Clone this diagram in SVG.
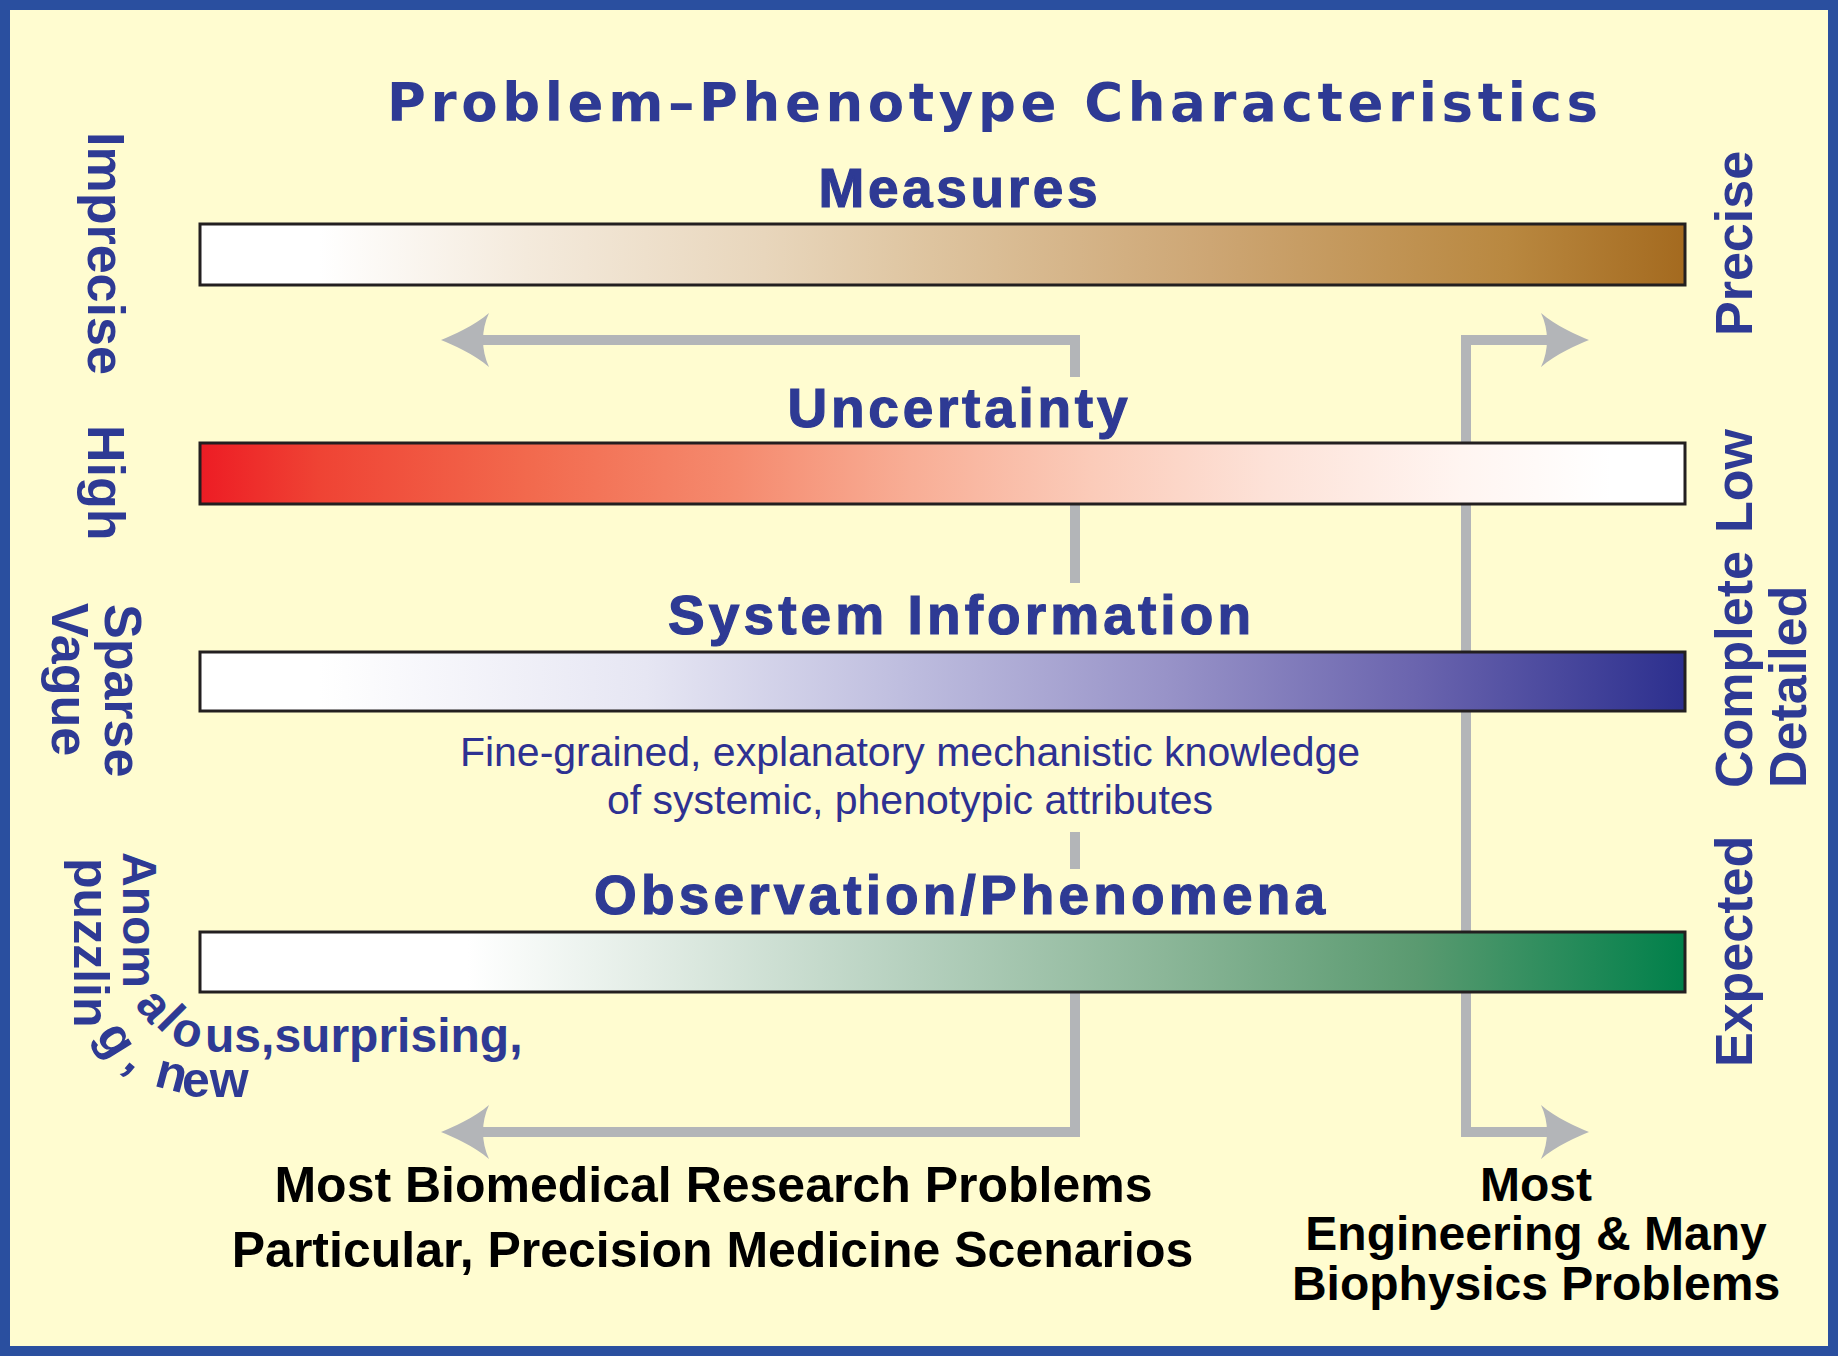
<svg xmlns="http://www.w3.org/2000/svg" xmlns:xlink="http://www.w3.org/1999/xlink" width="1838" height="1356" viewBox="0 0 1838 1356">
<style>
.conn{fill:none;stroke:#B3B5B8;stroke-width:10;stroke-linejoin:miter;stroke-linecap:butt}
.head{fill:#B3B5B8}
.bar{stroke:#231F20;stroke-width:3}
.bt{font-family:"Liberation Sans",Arial,sans-serif;font-weight:bold;fill:#2E3A94}
.ttl{font-family:"DejaVu Sans","Liberation Sans",Arial,sans-serif;font-weight:bold;fill:#2E3A94}
.hv{stroke:#2E3A94;stroke-width:1.2}
.side{font-family:"Liberation Sans",Arial,sans-serif;font-weight:bold;fill:#2E3A94;font-size:52px}
.desc{font-family:"Liberation Sans",Arial,sans-serif;fill:#2E3192;font-size:41px}
.blk{font-family:"Liberation Sans",Arial,sans-serif;font-weight:bold;fill:#000000}
</style>
<defs>
<linearGradient id="gMeas" x1="0" y1="0" x2="1" y2="0">
<stop offset="0" stop-color="#FFFFFF"/>
<stop offset="0.08" stop-color="#FFFFFF"/>
<stop offset="0.22" stop-color="#F4EADC"/>
<stop offset="0.38" stop-color="#E8D6BC"/>
<stop offset="0.48" stop-color="#DFC6A2"/>
<stop offset="0.68" stop-color="#CDA674"/>
<stop offset="0.88" stop-color="#B98840"/>
<stop offset="1" stop-color="#A46A1F"/>
</linearGradient>
<linearGradient id="gUnc" x1="0" y1="0" x2="1" y2="0">
<stop offset="0" stop-color="#ED1C24"/>
<stop offset="0.08" stop-color="#EF4334"/>
<stop offset="0.22" stop-color="#F2694D"/>
<stop offset="0.36" stop-color="#F58A6E"/>
<stop offset="0.48" stop-color="#F8AE96"/>
<stop offset="0.6" stop-color="#FBCBB9"/>
<stop offset="0.72" stop-color="#FDE2D8"/>
<stop offset="0.85" stop-color="#FFF5F1"/>
<stop offset="0.95" stop-color="#FFFFFF"/>
<stop offset="1" stop-color="#FFFFFF"/>
</linearGradient>
<linearGradient id="gSys" x1="0" y1="0" x2="1" y2="0">
<stop offset="0" stop-color="#FFFFFF"/>
<stop offset="0.08" stop-color="#FFFFFF"/>
<stop offset="0.3" stop-color="#E6E6F3"/>
<stop offset="0.48" stop-color="#BDBCDE"/>
<stop offset="0.65" stop-color="#9893C8"/>
<stop offset="0.82" stop-color="#6A64AE"/>
<stop offset="1" stop-color="#2C2F8E"/>
</linearGradient>
<linearGradient id="gObs" x1="0" y1="0" x2="1" y2="0">
<stop offset="0" stop-color="#FFFFFF"/>
<stop offset="0.18" stop-color="#FFFFFF"/>
<stop offset="0.3" stop-color="#E3EDE6"/>
<stop offset="0.48" stop-color="#B5D0BE"/>
<stop offset="0.65" stop-color="#8BB698"/>
<stop offset="0.82" stop-color="#5A9A70"/>
<stop offset="1" stop-color="#00804A"/>
</linearGradient>
<path id="ahR" d="M0,0 C-12,-5 -33,-14 -48,-27 C-40,-10 -40,10 -48,27 C-33,14 -12,5 0,0 Z"/>
</defs>

<rect id="frame" x="5" y="5" width="1828" height="1346" fill="#FFFCD0" stroke="#2A4F9F" stroke-width="10"/>

<g id="connectors">
<path class="conn" d="M1075,377 V340 H482"/>
<path class="conn" d="M1075,504 V583"/>
<path class="conn" d="M1075,832 V869"/>
<path class="conn" d="M1075,992 V1132 H482"/>
<path class="conn" d="M1548,340 H1466 V1132 H1548"/>
<use class="head" href="#ahR" transform="translate(441,340) scale(-1,1)"/>
<use class="head" href="#ahR" transform="translate(441,1132) scale(-1,1)"/>
<use class="head" href="#ahR" transform="translate(1589,340)"/>
<use class="head" href="#ahR" transform="translate(1589,1132)"/>
</g>

<text id="title" class="ttl" x="992.5" y="121" font-size="53" text-anchor="middle" textLength="1211" lengthAdjust="spacing">Problem–Phenotype Characteristics</text>

<g id="measures">
<text class="bt hv" x="958" y="207" font-size="55" text-anchor="middle" textLength="279" lengthAdjust="spacing">Measures</text>
<rect class="bar" x="200" y="224" width="1485" height="61" fill="url(#gMeas)"/>
<text class="side" transform="translate(88,132) rotate(90)">Imprecise</text>
<text class="side" transform="translate(1752,336) rotate(-90)">Precise</text>
</g>

<g id="uncertainty">
<text class="bt hv" x="957.5" y="427" font-size="55" text-anchor="middle" textLength="340" lengthAdjust="spacing">Uncertainty</text>
<rect class="bar" x="200" y="443" width="1485" height="61" fill="url(#gUnc)"/>
<text class="side" transform="translate(88,425) rotate(90)">High</text>
<text class="side" transform="translate(1752,533) rotate(-90)">Low</text>
</g>

<g id="system-information">
<text class="bt hv" x="959.5" y="634" font-size="55" text-anchor="middle" textLength="583" lengthAdjust="spacing">System Information</text>
<rect class="bar" x="200" y="652" width="1485" height="59" fill="url(#gSys)"/>
<text class="desc" x="910" y="766" text-anchor="middle">Fine-grained, explanatory mechanistic knowledge</text>
<text class="desc" x="910" y="814" text-anchor="middle">of systemic, phenotypic attributes</text>
<text class="side" transform="translate(105,604) rotate(90)">Sparse</text>
<text class="side" transform="translate(52,603) rotate(90)">Vague</text>
<text class="side" transform="translate(1752,788) rotate(-90)">Complete</text>
<text class="side" transform="translate(1806,788) rotate(-90)">Detailed</text>
</g>

<g id="observation">
<text class="bt hv" x="959.5" y="914" font-size="55" text-anchor="middle" textLength="731" lengthAdjust="spacing">Observation/Phenomena</text>
<rect class="bar" x="200" y="932" width="1485" height="60" fill="url(#gObs)"/>
<text class="bt" font-size="48" x="123 123 123 123 134 155 169 205" y="852 886.7 916 945.3 1005 1025 1041 1052" rotate="90 90 90 90 50 45 18 0">Anomalous,surprising,</text>
<text class="bt" font-size="50" x="74 74 74 74 74 74 74 95 122 135 153 182" y="858 888.6 919.2 944.2 969.2 983.1 997 1035 1066 1074 1085.5 1097" rotate="90 90 90 90 90 90 90 58 40 30 15 0">puzzling, new</text>
<text class="side" transform="translate(1752,1067) rotate(-90)">Expected</text>
</g>

<g id="biomedical">
<text class="blk" x="713.5" y="1202" font-size="50" text-anchor="middle">Most Biomedical Research Problems</text>
<text class="blk" x="712.5" y="1267" font-size="50" text-anchor="middle">Particular, Precision Medicine Scenarios</text>
</g>

<g id="engineering">
<text class="blk" x="1536" y="1201" font-size="48" text-anchor="middle">Most</text>
<text class="blk" x="1536" y="1250" font-size="48" text-anchor="middle">Engineering &amp; Many</text>
<text class="blk" x="1536" y="1300" font-size="48" text-anchor="middle">Biophysics Problems</text>
</g>
</svg>
